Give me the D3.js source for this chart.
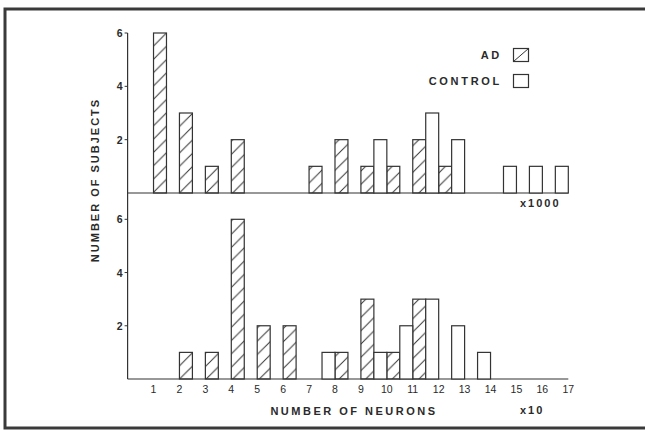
<!DOCTYPE html>
<html>
<head>
<meta charset="utf-8">
<script src="https://cdn.jsdelivr.net/npm/d3@7"></script>
<style>
  body { margin: 0; background: #fff; }
  text { font-family: "Liberation Sans", Arial, sans-serif; fill: #2a2a2a; }
</style>
</head>
<body>
<script>
// bins (left edge of each 1-unit bin); AD drawn in left half, control in right half
var bins = [1, 2, 3, 4, 5, 6, 7, 8, 9, 10, 11, 12, 13, 14, 15, 16];

// top panel (x1000)
var topAD      = [6, 3, 1, 2, 0, 0, 1, 2, 1, 1, 2, 1, 0, 0, 0, 0];
var topControl = [0, 0, 0, 0, 0, 0, 0, 0, 2, 0, 3, 2, 0, 1, 1, 1];

// bottom panel (x10)
var botAD      = [0, 1, 1, 6, 2, 2, 0, 1, 3, 1, 3, 0, 0, 0, 0, 0];
var botControl = [0, 0, 0, 0, 0, 0, 1, 0, 1, 2, 3, 2, 1, 0, 0, 0];

var xTicks = d3.range(1, 18);
var yTicks = [2, 4, 6];

var width = 645, height = 430;

var svg = d3.select("body").append("svg")
    .attr("width", width)
    .attr("height", height);

// hatch for AD bars
var defs = svg.append("defs");
var hs = 13.3;
defs.append("pattern")
    .attr("id", "hatch")
    .attr("patternUnits", "userSpaceOnUse")
    .attr("width", hs).attr("height", hs)
  .append("path")
    .attr("d", "M0," + hs + "L" + hs + ",0M-2,2L2,-2M" + (hs - 2) + "," + (hs + 2) + "L" + (hs + 2) + "," + (hs - 2))
    .attr("stroke", "#333").attr("stroke-width", 1);

// frame (right side runs off the page)
svg.append("rect")
    .attr("x", 5).attr("y", 9)
    .attr("width", 660).attr("height", 419)
    .attr("fill", "none").attr("stroke", "#3a3a3a").attr("stroke-width", 3);

var x = d3.scaleLinear().domain([0, 17]).range([127.6, 568.3]);
var yTop = d3.scaleLinear().domain([0, 6]).range([193, 33]);
var yBot = d3.scaleLinear().domain([0, 6]).range([379, 219.3]);

function drawPanel(y, adVals, ctlVals, axisTop) {
    var g = svg.append("g");

    // y axis line
    g.append("line")
        .attr("x1", x(0)).attr("x2", x(0))
        .attr("y1", axisTop).attr("y2", y(0))
        .attr("stroke", "#333").attr("stroke-width", 1.2);

    // baseline
    g.append("line")
        .attr("x1", x(0)).attr("x2", x(17))
        .attr("y1", y(0)).attr("y2", y(0))
        .attr("stroke", "#333").attr("stroke-width", 1.2);

    g.selectAll(".ytick").data(yTicks).enter().append("line")
        .attr("x1", x(0) - 3).attr("x2", x(0))
        .attr("y1", function (d) { return y(d); })
        .attr("y2", function (d) { return y(d); })
        .attr("stroke", "#333").attr("stroke-width", 1);

    g.selectAll(".ylab").data(yTicks).enter().append("text")
        .attr("x", x(0) - 5)
        .attr("y", function (d) { return y(d) + 4; })
        .attr("text-anchor", "end")
        .attr("font-size", 10.5)
        .attr("font-weight", "bold")
        .text(function (d) { return d; });

    var ad = bins.map(function (b, i) { return { b: b, v: adVals[i] }; }).filter(function (d) { return d.v > 0; });
    var ctl = bins.map(function (b, i) { return { b: b, v: ctlVals[i] }; }).filter(function (d) { return d.v > 0; });

    g.selectAll(".ad").data(ad).enter().append("rect")
        .attr("x", function (d) { return x(d.b); })
        .attr("width", function (d) { return x(d.b + 0.5) - x(d.b); })
        .attr("y", function (d) { return y(d.v); })
        .attr("height", function (d) { return y(0) - y(d.v); })
        .attr("fill", "url(#hatch)")
        .attr("stroke", "#333").attr("stroke-width", 1.2);

    g.selectAll(".ctl").data(ctl).enter().append("rect")
        .attr("x", function (d) { return x(d.b + 0.5); })
        .attr("width", function (d) { return x(d.b + 1) - x(d.b + 0.5); })
        .attr("y", function (d) { return y(d.v); })
        .attr("height", function (d) { return y(0) - y(d.v); })
        .attr("fill", "#fff")
        .attr("stroke", "#333").attr("stroke-width", 1.2);
}

drawPanel(yTop, topAD, topControl, yTop(6));
drawPanel(yBot, botAD, botControl, yTop(0));

// x tick labels (bottom only)
svg.selectAll(".xlab").data(xTicks).enter().append("text")
    .attr("x", function (d) { return x(d); })
    .attr("y", 393)
    .attr("text-anchor", "middle")
    .attr("font-size", 10.5)
    .attr("fill", "#444")
    .text(function (d) { return d; });

// axis titles
svg.append("text")
    .attr("x", 354).attr("y", 415)
    .attr("text-anchor", "middle")
    .attr("font-size", 11).attr("font-weight", "bold")
    .attr("letter-spacing", 2.5)
    .text("NUMBER OF NEURONS");

svg.append("text")
    .attr("transform", "translate(99,180) rotate(-90)")
    .attr("text-anchor", "middle")
    .attr("font-size", 11).attr("font-weight", "bold")
    .attr("letter-spacing", 2)
    .text("NUMBER OF SUBJECTS");

svg.append("text")
    .attr("x", 520).attr("y", 207)
    .attr("font-size", 11).attr("font-weight", "bold")
    .attr("letter-spacing", 2)
    .text("x1000");

svg.append("text")
    .attr("x", 520).attr("y", 414)
    .attr("font-size", 11).attr("font-weight", "bold")
    .attr("letter-spacing", 2)
    .text("x10");

// legend
var legend = [{ name: "AD", y: 55, hatch: true }, { name: "CONTROL", y: 81, hatch: false }];
var lg = svg.append("g");
lg.selectAll("text").data(legend).enter().append("text")
    .attr("x", 502).attr("y", function (d) { return d.y + 4; })
    .attr("text-anchor", "end")
    .attr("font-size", 11).attr("font-weight", "bold")
    .attr("letter-spacing", 2.7)
    .text(function (d) { return d.name; });

lg.selectAll("rect").data(legend).enter().append("rect")
    .attr("x", 513.5).attr("y", function (d) { return d.y - 6.5; })
    .attr("width", 15).attr("height", 13)
    .attr("fill", "#fff")
    .attr("stroke", "#333").attr("stroke-width", 1.2);

lg.selectAll(".diag").data(legend.filter(function (d) { return d.hatch; })).enter().append("line")
    .attr("x1", 513.5).attr("y1", function (d) { return d.y + 6.5; })
    .attr("x2", 528.5).attr("y2", function (d) { return d.y - 6.5; })
    .attr("stroke", "#333").attr("stroke-width", 1);
</script>
</body>
</html>
